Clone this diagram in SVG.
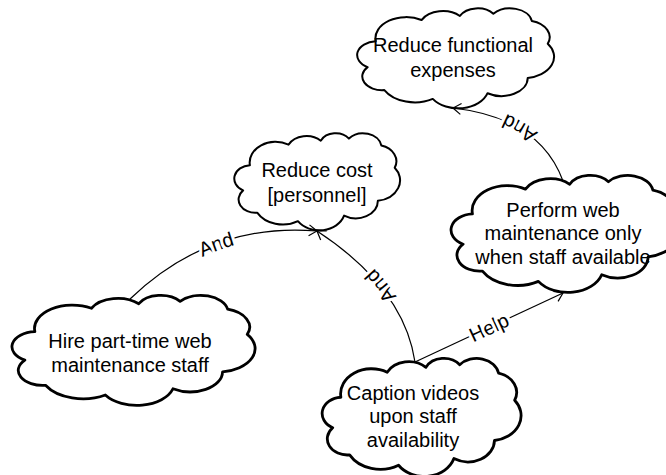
<svg xmlns="http://www.w3.org/2000/svg" width="666" height="475" viewBox="0 0 666 475">
<style>
.cloud{fill:#fff;stroke:#000;stroke-linejoin:round}
.thin{stroke-width:2}
.thick{stroke-width:2.8}
.t{font-family:"Liberation Sans",Arial,sans-serif;font-size:20px;fill:#000;text-anchor:middle}
.edge{fill:none;stroke:#000;stroke-width:1.2;marker-end:url(#arr)}
.lbl{font-family:"Liberation Sans",Arial,sans-serif;font-size:20px;fill:#000;stroke:#fff;stroke-width:6;paint-order:stroke;stroke-linejoin:round;text-anchor:middle;dominant-baseline:central}
</style>
<defs>
<path id="cloud" vector-effect="non-scaling-stroke" d="M 9.03 33.26 A 15.63 21.27 0 0 1 32.42 12.04 A 12.34 16.82 0 0 1 51.98 7.95 A 10.10 13.76 0 0 1 69.06 5.75 A 11.24 15.27 0 0 1 88.70 12.91 A 12.34 16.84 0 0 1 96.80 35.79 A 15.68 21.34 0 0 1 86.59 69.91 A 13.39 18.21 0 0 1 66.10 85.22 A 15.63 21.33 0 0 1 38.15 90.89 A 17.87 24.41 0 0 1 13.44 82.11 A 10.09 13.70 0 0 1 4.90 59.14 A 10.06 13.76 0 0 1 9.03 33.26 Z"/>
<marker id="arr" markerUnits="userSpaceOnUse" viewBox="-10 -7 12 14" refX="0" refY="0" markerWidth="12" markerHeight="14" orient="auto">
<path d="M -8 -5.5 L 0 0 L -8 5.5" fill="none" stroke="#000" stroke-width="1.2"/>
</marker>
</defs>
<rect width="666" height="475" fill="#fff"/>

<g id="n1">
<use href="#cloud" class="cloud thin" transform="translate(358 8) scale(1.96 1.0)"/>
<text class="t" x="453" y="52">Reduce functional</text>
<text class="t" x="453" y="77">expenses</text>
</g>

<g id="n2">
<use href="#cloud" class="cloud thin" transform="translate(235 133) scale(1.65 0.97)"/>
<text class="t" x="317" y="177">Reduce cost</text>
<text class="t" x="317" y="202">[personnel]</text>
</g>

<g id="n3">
<use href="#cloud" class="cloud thick" transform="translate(13 295) scale(2.42 1.1)"/>
<text class="t" x="130" y="348">Hire part-time web</text>
<text class="t" x="130" y="372">maintenance staff</text>
</g>

<g id="n4">
<use href="#cloud" class="cloud thick" transform="translate(452 175) scale(2.265 1.17)"/>
<text class="t" x="563" y="217">Perform web</text>
<text class="t" x="563" y="240">maintenance only</text>
<text class="t" x="563" y="264">when staff available</text>
</g>

<g id="n5">
<use href="#cloud" class="cloud thick" transform="translate(323 358) scale(1.98 1.18)"/>
<text class="t" x="413" y="400">Caption videos</text>
<text class="t" x="413" y="423">upon staff</text>
<text class="t" x="413" y="447">availability</text>
</g>

<g id="connectors">
<path id="e1" class="edge" d="M 563 181 Q 540 118 453 108"/>
<text class="lbl"><textPath href="#e1" startOffset="50%">And</textPath></text>
<path id="e2" class="edge" d="M 130 299 Q 210 222 317 231"/>
<text class="lbl"><textPath href="#e2" startOffset="50%">And</textPath></text>
<path id="e3" class="edge" d="M 415 362 Q 404 288 317 231"/>
<text class="lbl"><textPath href="#e3" startOffset="50%">And</textPath></text>
<path id="e4" class="edge" d="M 415 362 L 563 293"/>
<text class="lbl"><textPath href="#e4" startOffset="50%">Help</textPath></text>
</g>
</svg>
